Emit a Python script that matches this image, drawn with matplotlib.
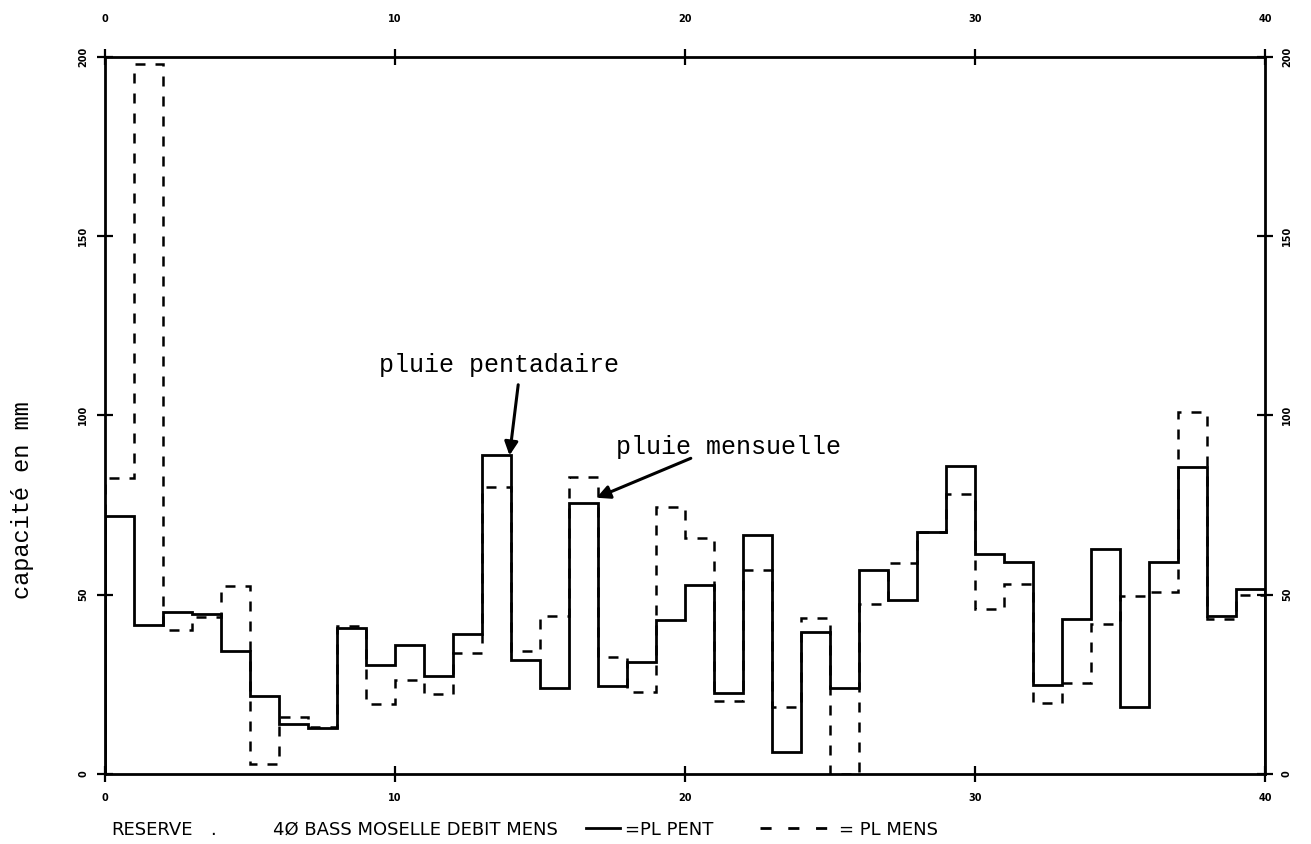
import numpy as np
import matplotlib
matplotlib.use("Agg")
import matplotlib.pyplot as plt
from matplotlib.lines import Line2D

# capacity (mm) per step
pl_pent = [72, 41.6, 45.1, 44.5, 34.4, 21.8, 13.9, 12.7, 40.6, 30.4,
           36.0, 27.4, 39.1, 89.0, 31.8, 23.9, 75.5, 24.4, 31.3, 43.0,
           52.7, 22.5, 66.7, 6.2, 39.7, 23.9, 56.9, 48.5, 67.4, 85.9,
           61.3, 59.2, 24.8, 43.1, 62.6, 18.7, 59.2, 85.7, 44.1, 51.7]
pl_mens = [82.6, 197.8, 40.0, 43.8, 52.5, 2.8, 15.9, 13.0, 41.2, 19.4,
           26.2, 22.2, 33.6, 80.0, 34.3, 44.1, 82.9, 32.7, 22.9, 74.3,
           65.7, 20.4, 56.9, 18.8, 43.6, 0.0, 47.3, 58.7, 67.4, 78.1,
           45.9, 53.0, 19.7, 25.3, 41.7, 49.5, 50.7, 100.9, 43.1, 49.8]
xticks = [0, 10, 20, 30, 40]
yticks = [0, 50, 100, 150, 200]

edges = np.arange(len(pl_pent) + 1)

fig = plt.figure(figsize=(13.11, 8.44), dpi=100)
ax = fig.add_axes([0.080, 0.083, 0.885, 0.850])

ax.stairs(pl_pent, edges, color="black", linewidth=2.0)
ax.stairs(pl_mens, edges, color="black", linewidth=1.8, linestyle=(0, (4, 4)))

ax.set_xlim(0, 40)
ax.set_ylim(0, 200)
ax.set_xticks(xticks)
ax.set_yticks(yticks)
ax.set_xticklabels([str(v) for v in xticks], fontsize=7, fontweight="bold")
ax.set_yticklabels([str(v) for v in yticks], fontsize=7, fontweight="bold", rotation=90, va="center")
ax.tick_params(top=True, right=True, labeltop=False, labelright=True,
               direction="inout", length=12, width=1.6)
ax.tick_params(axis="x", pad=8)
ax.tick_params(axis="y", pad=6)
# top labels sit higher than the bottom ones
for v in xticks:
    ax.annotate(str(v), xy=(v, 1), xycoords=("data", "axes fraction"),
                xytext=(0, 27), textcoords="offset points",
                ha="center", va="center", fontsize=7, fontweight="bold")
for s in ax.spines.values():
    s.set_linewidth(2.0)

# annotations
mono = "Liberation Mono"
ax.text(13.6, 114, "pluie pentadaire", fontsize=18, family=mono, ha="center", va="center")
ax.annotate("", xy=(13.95, 88.8), xytext=(14.25, 108.5),
            arrowprops=dict(arrowstyle="-|>", color="black", lw=2.2, mutation_scale=20,
                            shrinkA=0, shrinkB=0))
ax.text(21.5, 91.2, "pluie mensuelle", fontsize=18, family=mono, ha="center", va="center")
ax.annotate("", xy=(16.95, 77.0), xytext=(20.2, 88.0),
            arrowprops=dict(arrowstyle="-|>", color="black", lw=2.2, mutation_scale=20,
                            shrinkA=0, shrinkB=0))

fig.text(22 / 1311, 0.408, "capacité en mm", family=mono, fontsize=17,
         rotation=90, ha="center", va="center")

# caption line under the chart
cap = dict(fontsize=13, va="center")
fig.text(0.085, 0.017, "RESERVE", **cap)
fig.text(0.160, 0.017, ".", **cap)
fig.text(0.208, 0.017, "4Ø BASS MOSELLE DEBIT MENS", **cap)
fig.add_artist(Line2D([0.447, 0.473], [0.019, 0.019], transform=fig.transFigure,
                      color="black", linewidth=2))
fig.text(0.477, 0.017, "=PL PENT", **cap)
fig.add_artist(Line2D([0.580, 0.633], [0.019, 0.019], transform=fig.transFigure,
                      color="black", linewidth=2, linestyle=(0, (4, 6))))
fig.text(0.640, 0.017, "= PL MENS", **cap)

fig.savefig("out.png", dpi=100)
